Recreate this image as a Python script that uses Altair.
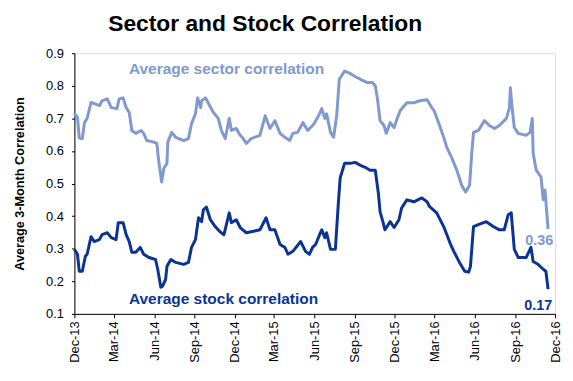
import altair as alt
import pandas as pd

chart_title = "Sector and Stock Correlation"
y_title = "Average 3-Month Correlation"
series_names = ["Average sector correlation", "Average stock correlation"]
series_colors = ["#8099cf", "#0b3391"]
end_labels = ["0.36", "0.17"]
y_ticks = [0.1, 0.2, 0.3, 0.4, 0.5, 0.6, 0.7, 0.8, 0.9]
x_ticks = ["2013-12-01", "2014-03-01", "2014-06-01", "2014-09-01", "2014-12-01",
           "2015-03-01", "2015-06-01", "2015-09-01", "2015-12-01", "2016-03-01",
           "2016-06-01", "2016-09-01", "2016-12-01"]

sector_dates = [
    "2013-12-01", "2013-12-08", "2013-12-12", "2013-12-19", "2013-12-24", "2013-12-30",
    "2014-01-08", "2014-01-27", "2014-02-02", "2014-02-14", "2014-02-23", "2014-03-08",
    "2014-03-13", "2014-03-22", "2014-03-29", "2014-04-05", "2014-04-11", "2014-04-20",
    "2014-05-02", "2014-05-08", "2014-05-15", "2014-05-31", "2014-06-07", "2014-06-11",
    "2014-06-18", "2014-06-23", "2014-06-30", "2014-07-02", "2014-07-11", "2014-07-20",
    "2014-08-07", "2014-08-18", "2014-08-25", "2014-09-03", "2014-09-08", "2014-09-15",
    "2014-09-17", "2014-09-26", "2014-10-03", "2014-10-14", "2014-10-25", "2014-11-01",
    "2014-11-10", "2014-11-19", "2014-11-24", "2014-12-05", "2014-12-14", "2014-12-21",
    "2014-12-28", "2015-01-08", "2015-01-28", "2015-02-09", "2015-02-20", "2015-03-03",
    "2015-03-15", "2015-03-26", "2015-04-06", "2015-04-13", "2015-04-24", "2015-05-06",
    "2015-05-17", "2015-05-28", "2015-06-02", "2015-06-13", "2015-06-18", "2015-06-25",
    "2015-06-29", "2015-07-08", "2015-07-15", "2015-07-22", "2015-07-28", "2015-08-09",
    "2015-08-20", "2015-08-31", "2015-09-14", "2015-09-30", "2015-10-11", "2015-10-18",
    "2015-10-23", "2015-10-29", "2015-11-07", "2015-11-12", "2015-11-21", "2015-11-30",
    "2015-12-07", "2015-12-14", "2015-12-29", "2016-01-14", "2016-01-28", "2016-02-13",
    "2016-02-24", "2016-02-29", "2016-03-11", "2016-03-22", "2016-03-29", "2016-04-09",
    "2016-04-21", "2016-05-02", "2016-05-11", "2016-05-20", "2016-05-25", "2016-05-29",
    "2016-06-09", "2016-06-23", "2016-07-04", "2016-07-16", "2016-07-27", "2016-08-12",
    "2016-08-19", "2016-08-21", "2016-08-25", "2016-08-30", "2016-09-08", "2016-09-26",
    "2016-10-05", "2016-10-10", "2016-10-12", "2016-10-19", "2016-10-30", "2016-11-04",
    "2016-11-08", "2016-11-15"]
sector_values = [
    0.715, 0.703, 0.640, 0.638, 0.687, 0.700,
    0.749, 0.739, 0.754, 0.760, 0.733, 0.730,
    0.760, 0.763, 0.733, 0.718, 0.663, 0.654,
    0.663, 0.654, 0.632, 0.627, 0.623, 0.572,
    0.505, 0.547, 0.562, 0.627, 0.657, 0.642,
    0.632, 0.638, 0.684, 0.714, 0.763, 0.733,
    0.754, 0.763, 0.745, 0.718, 0.700, 0.663,
    0.638, 0.700, 0.663, 0.669, 0.648, 0.638,
    0.623, 0.638, 0.648, 0.708, 0.669, 0.693,
    0.654, 0.642, 0.632, 0.654, 0.657, 0.687,
    0.663, 0.678, 0.687, 0.714, 0.730, 0.700,
    0.714, 0.657, 0.642, 0.708, 0.820, 0.845,
    0.839, 0.830, 0.820, 0.810, 0.810, 0.800,
    0.760, 0.693, 0.678, 0.654, 0.687, 0.672,
    0.700, 0.724, 0.748, 0.748, 0.754, 0.757,
    0.733, 0.724, 0.684, 0.642, 0.611, 0.580,
    0.541, 0.495, 0.474, 0.495, 0.593, 0.657,
    0.663, 0.693, 0.678, 0.669, 0.678, 0.700,
    0.733, 0.794, 0.733, 0.672, 0.654, 0.648,
    0.657, 0.700, 0.593, 0.541, 0.520, 0.450,
    0.480, 0.360]

stock_dates = [
    "2013-12-01", "2013-12-08", "2013-12-12", "2013-12-19", "2013-12-26", "2013-12-30",
    "2014-01-08", "2014-01-15", "2014-01-27", "2014-02-02", "2014-02-14", "2014-02-23",
    "2014-03-06", "2014-03-11", "2014-03-22", "2014-03-29", "2014-04-05", "2014-04-11",
    "2014-04-20", "2014-04-30", "2014-05-08", "2014-05-20", "2014-06-04", "2014-06-09",
    "2014-06-16", "2014-06-20", "2014-06-27", "2014-06-30", "2014-07-09", "2014-07-20",
    "2014-08-07", "2014-08-18", "2014-08-25", "2014-09-03", "2014-09-10", "2014-09-17",
    "2014-09-21", "2014-09-28", "2014-10-07", "2014-10-18", "2014-10-29", "2014-11-07",
    "2014-11-19", "2014-11-24", "2014-12-05", "2014-12-14", "2014-12-28", "2015-01-08",
    "2015-01-28", "2015-02-11", "2015-02-20", "2015-03-03", "2015-03-15", "2015-03-26",
    "2015-04-02", "2015-04-13", "2015-05-01", "2015-05-12", "2015-05-21", "2015-05-28",
    "2015-06-04", "2015-06-13", "2015-06-18", "2015-06-25", "2015-06-29", "2015-07-08",
    "2015-07-19", "2015-07-26", "2015-07-30", "2015-08-09", "2015-08-22", "2015-09-02",
    "2015-09-14", "2015-09-25", "2015-10-06", "2015-10-18", "2015-10-25", "2015-10-29",
    "2015-11-05", "2015-11-09", "2015-11-21", "2015-11-30", "2015-12-11", "2015-12-17",
    "2015-12-29", "2016-01-14", "2016-02-01", "2016-02-13", "2016-02-19", "2016-03-06",
    "2016-03-22", "2016-04-05", "2016-04-14", "2016-04-27", "2016-05-09", "2016-05-18",
    "2016-05-22", "2016-05-29", "2016-06-09", "2016-06-27", "2016-07-13", "2016-07-27",
    "2016-08-07", "2016-08-16", "2016-08-23", "2016-08-30", "2016-09-08", "2016-09-26",
    "2016-10-07", "2016-10-12", "2016-10-23", "2016-11-04", "2016-11-10", "2016-11-15"]
stock_values = [
    0.298, 0.283, 0.231, 0.231, 0.277, 0.283,
    0.337, 0.322, 0.328, 0.343, 0.349, 0.334,
    0.328, 0.380, 0.380, 0.343, 0.322, 0.289,
    0.289, 0.304, 0.283, 0.273, 0.267, 0.237,
    0.182, 0.185, 0.206, 0.246, 0.267, 0.258,
    0.252, 0.258, 0.304, 0.328, 0.395, 0.383,
    0.419, 0.428, 0.389, 0.368, 0.352, 0.343,
    0.410, 0.380, 0.389, 0.365, 0.349, 0.352,
    0.358, 0.395, 0.358, 0.358, 0.313, 0.304,
    0.283, 0.292, 0.322, 0.292, 0.283, 0.304,
    0.313, 0.343, 0.358, 0.334, 0.349, 0.298,
    0.298, 0.444, 0.517, 0.562, 0.562, 0.565,
    0.556, 0.550, 0.541, 0.541, 0.471, 0.413,
    0.380, 0.358, 0.383, 0.365, 0.389, 0.425,
    0.450, 0.444, 0.456, 0.444, 0.429, 0.410,
    0.368, 0.319, 0.292, 0.258, 0.231, 0.228,
    0.246, 0.368, 0.374, 0.383, 0.368, 0.358,
    0.358, 0.404, 0.410, 0.298, 0.273, 0.273,
    0.304, 0.261, 0.252, 0.237, 0.231, 0.176]

df = pd.concat([
    pd.DataFrame({"date": sector_dates, "value": sector_values, "series": series_names[0]}),
    pd.DataFrame({"date": stock_dates, "value": stock_values, "series": series_names[1]}),
], ignore_index=True)


def dt(s):
    y, m, d = (int(p) for p in s.split("-"))
    return alt.DateTime(year=y, month=m, date=d, utc=True)


FONT = "Liberation Sans"
W, H = 485, 263

x_enc = alt.X(
    "date:T",
    scale=alt.Scale(type="utc", domain=[dt(x_ticks[0]), dt(x_ticks[-1])]),
    axis=alt.Axis(values=[dt(s) for s in x_ticks], format="%b-%y", labelAngle=-90,
                  title=None, grid=False, tickSize=4, labelPadding=3,
                  labelFontSize=13, labelColor="black", domainColor="black",
                  tickColor="black", labelFont=FONT, labelOverlap=False),
)
y_enc = alt.Y(
    "value:Q",
    scale=alt.Scale(domain=[0.1, 0.9], nice=False, zero=False),
    axis=alt.Axis(values=y_ticks, format=".1f", title=y_title, grid=False,
                  tickSize=3, labelPadding=8, labelFontSize=13, labelColor="black",
                  labelFont=FONT, domainColor="black", tickColor="black",
                  titleFont=FONT, titleFontSize=12.8, titleFontWeight="bold",
                  titleColor="black", titleX=-55, titleY=H / 2, titleAngle=270,
                  titleAlign="center", titleBaseline="middle"),
)

lines = alt.Chart(df).mark_line(strokeWidth=3, strokeJoin="round").encode(
    x=x_enc,
    y=y_enc,
    color=alt.Color("series:N", scale=alt.Scale(domain=series_names, range=series_colors),
                    legend=None),
)


def label(text, color, x, y, align, size):
    return alt.Chart(pd.DataFrame({"t": [text]})).mark_text(
        font=FONT, fontWeight="bold", fontSize=size, color=color,
        align=align, baseline="middle",
    ).encode(text="t:N", x=alt.value(x), y=alt.value(y))


chart = alt.layer(
    lines,
    label(series_names[0], series_colors[0], 55, 16, "left", 15.6),
    label(series_names[1], series_colors[1], 55, 248, "left", 15.6),
    label(end_labels[0], series_colors[0], 469, 190, "center", 14.5),
    label(end_labels[1], series_colors[1], 468, 255, "center", 14.5),
).properties(
    width=W, height=H,
    title=alt.TitleParams(chart_title, font=FONT, fontSize=23, fontWeight="bold",
                          color="black", anchor="middle", dx=-50, offset=11),
    autosize=alt.AutoSizeParams(type="none"),
    padding={"left": 67, "top": 44, "right": 10, "bottom": 55},
).configure_view(
    stroke="#a0a0a0", strokeWidth=1,
).configure(background="white")

chart.save("out.html", embed_options={"renderer": "svg", "actions": False})
